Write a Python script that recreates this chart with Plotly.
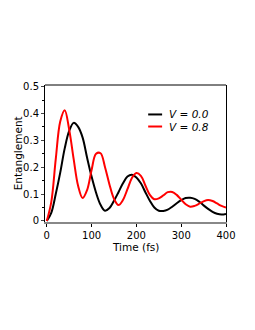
import plotly.graph_objects as go

time_fs = list(range(0, 401, 10))
ent_v00 = [0.0, 0.03, 0.10, 0.18, 0.27, 0.335, 0.365, 0.35, 0.31, 0.235, 0.165,
           0.105, 0.06, 0.038, 0.048, 0.075, 0.107, 0.14, 0.165, 0.172, 0.162,
           0.14, 0.107, 0.075, 0.05, 0.038, 0.037, 0.042, 0.053, 0.066, 0.077,
           0.085, 0.086, 0.082, 0.072, 0.058, 0.045, 0.034, 0.027, 0.024, 0.026]
ent_v08 = [0.0, 0.07, 0.23, 0.37, 0.412, 0.34, 0.23, 0.13, 0.085, 0.115, 0.19,
           0.25, 0.252, 0.2, 0.135, 0.082, 0.059, 0.078, 0.118, 0.16, 0.178,
           0.168, 0.132, 0.097, 0.081, 0.084, 0.095, 0.107, 0.108, 0.097, 0.079,
           0.062, 0.053, 0.056, 0.064, 0.073, 0.078, 0.074, 0.065, 0.056, 0.05]
series_names = ["V = 0.0", "V = 0.8"]
series_colors = ["black", "red"]
x_ticks = [0, 100, 200, 300, 400]
y_ticks = [0, 0.1, 0.2, 0.3, 0.4, 0.5]
y_ticklabels = ["0", "0.1", "0.2", "0.3", "0.4", "0.5"]
x_title = "Time (fs)"
y_title = "Entanglement"

fig = go.Figure()
for ys, name, col in zip([ent_v00, ent_v08], series_names, series_colors):
    fig.add_trace(go.Scatter(x=time_fs, y=ys, mode="lines", name=name, showlegend=False,
                             line=dict(color=col, width=2, shape="spline", smoothing=1.0)))

# legend drawn manually (short sample lines like the reference)
shapes = [dict(type="line", xref="paper", yref="paper", x0=0, x1=1, y0=1, y1=1,
               line=dict(color="black", width=1))]
annotations = []
leg_y = [0.785, 0.697]
for name, col, ly in zip(series_names, series_colors, leg_y):
    shapes.append(dict(type="line", xref="paper", yref="paper", x0=0.570, x1=0.647,
                       y0=ly, y1=ly, line=dict(color=col, width=2)))
    annotations.append(dict(xref="paper", yref="paper", x=0.675, y=ly, xanchor="left",
                            yanchor="middle", showarrow=False, text=f"<i>{name}</i>",
                            font=dict(size=10.5, color="black")))
# axis titles
annotations.append(dict(xref="paper", yref="paper", x=0.5, y=-0.185, xanchor="center",
                        yanchor="middle", showarrow=False, text=x_title, borderpad=0,
                        font=dict(size=10.5, color="black")))
annotations.append(dict(xref="paper", yref="paper", x=-0.150, y=0.5, xanchor="center",
                        yanchor="middle", showarrow=False, text=y_title, textangle=-90,
                        borderpad=0, font=dict(size=10.5, color="black")))

font = "DejaVu Sans, sans-serif"
fig.update_layout(
    width=247, height=322,
    margin=dict(l=36.5, r=29, t=77.3, b=107.7, autoexpand=False),
    paper_bgcolor="white", plot_bgcolor="white",
    font=dict(family=font, size=10.5, color="black"),
    showlegend=False,
    xaxis=dict(range=[-4, 400], tickvals=x_ticks, ticks="outside", ticklen=3,
               showgrid=False, zeroline=False, showline=True, linecolor="#888888",
               linewidth=2, tickcolor="black", tickfont=dict(size=10), automargin=False),
    yaxis=dict(range=[-0.004, 0.506], tickvals=y_ticks, ticktext=y_ticklabels,
               ticks="outside", ticklen=3, showgrid=False, zeroline=False,
               showline=True, mirror=True, linecolor="black", linewidth=1,
               tickfont=dict(size=10), automargin=False,
               minor=dict(tickvals=[0.05, 0.15, 0.25, 0.35, 0.45], ticks="outside",
                          ticklen=2, tickcolor="black")),
    shapes=shapes,
    annotations=annotations,
)
fig.write_html("out.html")
